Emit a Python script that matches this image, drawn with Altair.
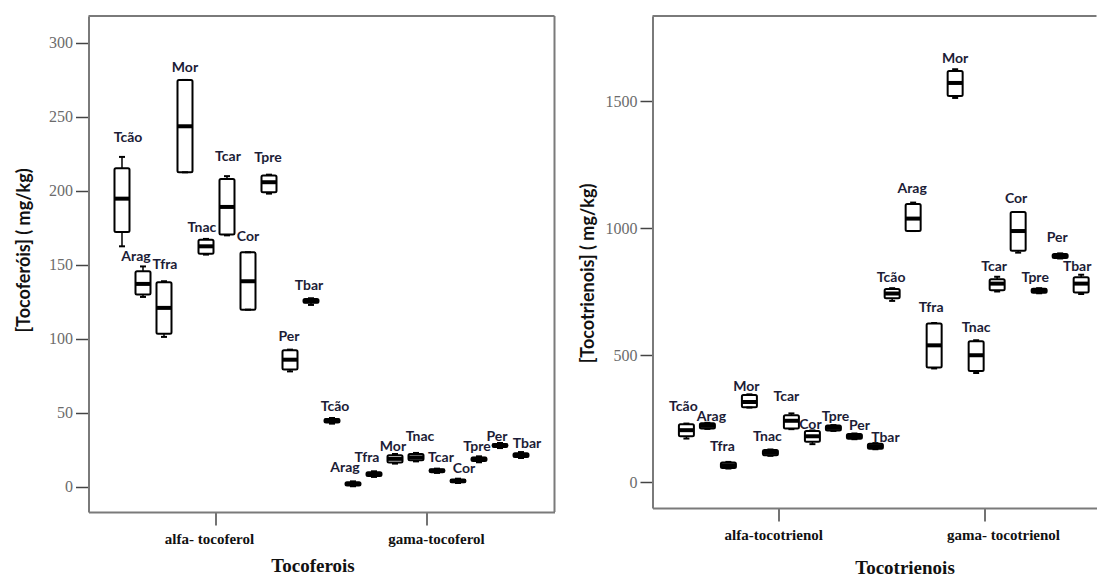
import altair as alt
import pandas as pd

# Amostras, na ordem em que aparecem dentro de cada grupo
samples = ["Tcão", "Arag", "Tfra", "Mor", "Tnac", "Tcar", "Cor", "Tpre", "Per", "Tbar"]

# ---- Tocoferóis (mg/kg): mínimo, Q1, mediana, Q3, máximo ----
toco_groups = ["alfa- tocoferol", "gama-tocoferol"]

alfa_toco_lo = [162.6, 128.4, 101.4, 212.6, 157.0, 170.0, 119.8, 198.2, 78.1, 123.0]
alfa_toco_q1 = [172.3, 130.0, 103.6, 212.6, 157.5, 170.5, 119.8, 199.1, 79.3, 124.5]
alfa_toco_md = [194.8, 137.2, 121.0, 243.7, 162.6, 189.2, 139.0, 205.9, 86.0, 125.5]
alfa_toco_q3 = [215.3, 145.7, 138.3, 275.0, 167.0, 208.1, 158.6, 210.5, 92.3, 127.0]
alfa_toco_hi = [223.0, 149.0, 139.0, 275.0, 167.6, 210.0, 158.6, 211.0, 92.8, 127.5]

gama_toco_lo = [42.8, 0.5, 6.8, 15.8, 17.3, 9.5, 2.7, 16.7, 26.3, 19.6]
gama_toco_q1 = [43.5, 1.0, 7.5, 16.5, 18.0, 10.0, 3.2, 17.5, 27.0, 20.3]
gama_toco_md = [45.0, 2.0, 8.7, 19.0, 20.0, 11.0, 4.0, 19.0, 28.0, 21.5]
gama_toco_q3 = [46.0, 3.2, 10.0, 21.5, 22.3, 12.0, 5.0, 20.0, 29.0, 22.8]
gama_toco_hi = [46.6, 3.8, 10.6, 22.3, 23.0, 12.4, 5.6, 20.7, 29.7, 23.6]

# ---- Tocotrienóis (mg/kg): mínimo, Q1, mediana, Q3, máximo ----
trien_groups = ["alfa-tocotrienol", "gama- tocotrienol"]

alfa_trien_lo = [173, 211, 55, 295, 105, 210, 151, 203, 170.5, 131]
alfa_trien_q1 = [182, 213, 57, 296, 107, 213, 160, 205, 172, 133]
alfa_trien_md = [206, 223, 68, 317, 117, 243, 182, 215, 182, 143]
alfa_trien_q3 = [229.5, 233, 79, 344, 128, 265, 203, 224, 191, 153]
alfa_trien_hi = [232, 235, 81, 347, 130, 272, 205, 226, 193, 155]

gama_trien_lo = [715, 990, 449, 1514, 431, 752, 905, 745, 882, 742]
gama_trien_q1 = [725, 990.5, 453, 1522, 439, 757, 912, 747, 884, 748]
gama_trien_md = [744, 1039, 540, 1573, 501, 783, 990, 757, 892, 783]
gama_trien_q3 = [762, 1096, 626, 1620, 556, 800, 1065, 763, 900, 808]
gama_trien_hi = [765, 1102, 628, 1627, 560, 810, 1065, 765, 902, 818]

# Deslocamento dos rótulos das amostras em relação ao topo da caixa (px):
# distância vertical e ajuste horizontal
label_gap = {
    "alfa- tocoferol": [19, 9, 16, 12, 11, 19, 15, 17, 13, 12],
    "gama-tocoferol": [11, 13, 13, 7, 16, 11, 10, 9, 6, 8],
    "alfa-tocotrienol": [17, 6, 15, 7, 12, 16, 5, 8, 7, 5],
    "gama- tocotrienol": [10, 14, 15, 10, 12, 10, 13, 10, 15, 8],
}
label_shift = {
    "alfa- tocoferol": [6, -7, 1, 0, -4, 1, 0, -1, -1, -2],
    "gama-tocoferol": [3, -8, -7, -2, 4, 4, 6, -2, -3, 6],
    "alfa-tocotrienol": [-3, 4, -6, -3, -3, -5, -2, 2, 5, 10],
    "gama- tocotrienol": [-1, -1, -3, 0, 0, -3, -2, -4, -3, -4],
}


def build_frame(groups, stats):
    rows = []
    for grupo, (lo, q1, md, q3, hi) in zip(groups, stats):
        for i, amostra in enumerate(samples):
            rows.append({"grupo": grupo, "amostra": amostra, "lo": lo[i],
                         "q1": q1[i], "med": md[i], "q3": q3[i], "hi": hi[i],
                         "gap": label_gap[grupo][i], "shift": label_shift[grupo][i]})
    return pd.DataFrame(rows)


toco_df = build_frame(toco_groups, [
    (alfa_toco_lo, alfa_toco_q1, alfa_toco_md, alfa_toco_q3, alfa_toco_hi),
    (gama_toco_lo, gama_toco_q1, gama_toco_md, gama_toco_q3, gama_toco_hi),
])
trien_df = build_frame(trien_groups, [
    (alfa_trien_lo, alfa_trien_q1, alfa_trien_md, alfa_trien_q3, alfa_trien_hi),
    (gama_trien_lo, gama_trien_q1, gama_trien_md, gama_trien_q3, gama_trien_hi),
])

FRAME = "#7a7a7a"
INK = "#1c1c36"


def panel(df, groups, width, height, ydomain, yticks, pad_outer, align,
          ytitle, ytitle_y, xtitle, xtitle_x, xtitle_y, tick_size, right_edge,
          xlabel_offsets):
    x_axis = alt.Axis(
        title=xtitle, labelAngle=0, domain=True, domainColor=FRAME, domainWidth=2,
        tickColor="#444444", tickWidth=1.5, tickSize=13, labelPadding=6,
        labelOffset={"condition": {"test": f"datum.value == '{groups[0]}'",
                                   "value": xlabel_offsets[0]},
                     "value": xlabel_offsets[1]},
        labelFont="Liberation Serif", labelFontSize=15, labelFontWeight="bold",
        labelColor="#111111", titleFont="Liberation Serif", titleFontSize=19,
        titleFontWeight="bold", titleColor="#111111", titleBaseline="top",
        titleX=xtitle_x, titleY=xtitle_y, grid=False,
    )
    y_axis = alt.Axis(
        title=ytitle, values=yticks, format="d", domain=True, domainColor=FRAME,
        domainWidth=2, tickColor="#444444", tickWidth=1.5, tickSize=tick_size,
        labelPadding=3, labelFont="Liberation Sans Narrow", labelFontSize=16,
        labelColor="#6b6b6b", titleFont="Lato", titleFontSize=18,
        titleFontWeight="bold", titleColor="#111111", titleBaseline="middle",
        titleX=-64, titleY=ytitle_y, grid=False,
    )
    xs = alt.Scale(domain=groups, paddingInner=0, paddingOuter=pad_outer, align=align)
    ys = alt.Scale(domain=ydomain, nice=False, zero=False)
    x = alt.X("grupo:N", sort=groups, scale=xs, axis=x_axis)
    xo = alt.XOffset("amostra:N", sort=samples,
                     scale=alt.Scale(domain=samples, paddingInner=0, paddingOuter=0))

    def Y(field):
        return alt.Y(field, scale=ys, axis=y_axis)

    base = alt.Chart(df).encode(x=x, xOffset=xo)

    whisker = base.mark_rule(color="black", strokeWidth=1.5, opacity=1).encode(
        y=Y("lo:Q"), y2="hi:Q")
    cap_lo = base.mark_tick(color="black", size=6, thickness=2, opacity=1).encode(
        y=Y("lo:Q"))
    cap_hi = base.mark_tick(color="black", size=6, thickness=2, opacity=1).encode(
        y=Y("hi:Q"))
    box = base.mark_bar(size=15, fill="white", stroke="black", strokeWidth=2,
                        cornerRadius=1.5, opacity=1).encode(y=Y("q1:Q"), y2="q3:Q")
    median = base.mark_tick(color="black", size=15, thickness=4, opacity=1).encode(
        y=Y("med:Q"))

    # one text layer per (distance, shift) pair, each anchored on the box top
    label_layers = []
    pairs = sorted(set(zip(df["gap"].astype(int), df["shift"].astype(int))))
    for g, s in pairs:
        label_layers.append(
            base.transform_filter((alt.datum.gap == g) & (alt.datum.shift == s))
            .mark_text(font="Lato", fontSize=14, fontWeight="bold", color=INK,
                       baseline="middle", dy=-g, dx=s)
            .encode(y=Y("hi:Q"), text="amostra:N")
        )

    one = alt.Chart(pd.DataFrame({"k": [0]}))
    top_rule = one.mark_rule(color=FRAME, strokeWidth=2).encode(
        x=alt.value(0), x2=alt.value(width), y=alt.value(0))
    layers = [whisker, box, median, cap_lo, cap_hi, *label_layers, top_rule]
    if right_edge:
        layers.append(one.mark_rule(color=FRAME, strokeWidth=2).encode(
            x=alt.value(width), y=alt.value(0), y2=alt.value(height)))
    return alt.layer(*layers).properties(width=width, height=height)


left = panel(toco_df, toco_groups, 466, 496, [-16.9, 318.2],
             [0, 50, 100, 150, 200, 250, 300], 0.1095, 0.5,
             "[Tocoferóis] ( mg/kg)", 234, "Tocoferois", 224, 44, 13, True,
             (-7, 10))

right = panel(trien_df, trien_groups, 444, 492, [-100.4, 1836.6],
              [0, 500, 1000, 1500], 0.079, 0.72,
              "[Tocotrienois] ( mg/kg)", 257, "Tocotrienois", 252, 50, 12.5, False,
              (-5, 19))

chart = alt.hconcat(left, right, spacing=24).properties(
    padding={"left": 15.5, "top": 15, "right": 0, "bottom": 0},
    background="white",
).configure_view(stroke=None)

chart.save("out.html", embed_options={"renderer": "svg", "actions": False})
